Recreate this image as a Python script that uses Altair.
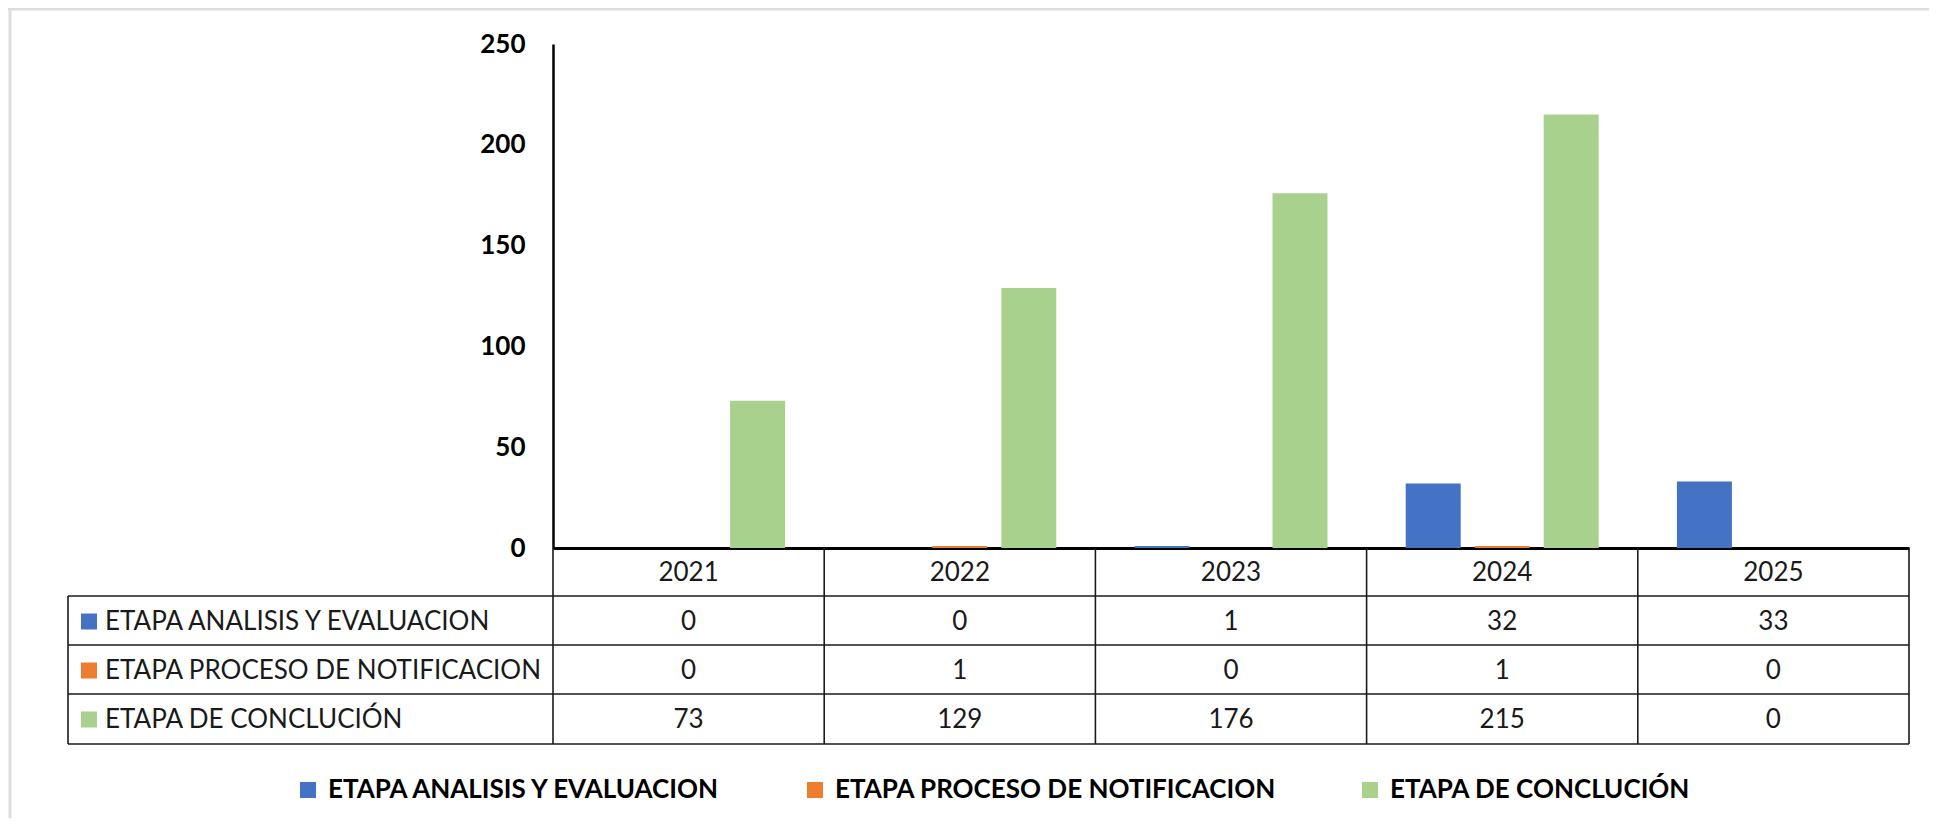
import altair as alt
import pandas as pd

years = ["2021", "2022", "2023", "2024", "2025"]
series = ["ETAPA ANALISIS Y EVALUACION", "ETAPA PROCESO DE NOTIFICACION", "ETAPA DE CONCLUCIÓN"]
analisis = [0, 0, 1, 32, 33]
notificacion = [0, 1, 0, 1, 0]
conclucion = [73, 129, 176, 215, 0]
colors = ["#4472C4", "#ED7D31", "#A9D18E"]
y_ticks = [0, 50, 100, 150, 200, 250]

values = [analisis, notificacion, conclucion]

bar_rows = []
for s, vals in zip(series, values):
    for yr, v in zip(years, vals):
        bar_rows.append({"year": yr, "series": s, "value": v})
bars_df = pd.DataFrame(bar_rows)

YEAR_ROW = "AÑO"
table_rows = []
for yr in years:
    table_rows.append({"year": yr, "row": YEAR_ROW, "text": yr})
for s, vals in zip(series, values):
    for yr, v in zip(years, vals):
        table_rows.append({"year": yr, "row": s, "text": str(v)})
table_df = pd.DataFrame(table_rows)
labels_df = pd.DataFrame({"row": series, "series": series})
one = pd.DataFrame({"k": [0]})

FONT = "Lato"
TXT = "#1a1a1a"
W, H = 1356, 504
T_TOP, T_BOT = 504, 700
T_LEFT = -485

xscale = alt.Scale(domain=years, paddingInner=0, paddingOuter=0)
cscale = alt.Scale(domain=series, range=colors)
rowscale = alt.Scale(domain=[YEAR_ROW] + series, range=[T_TOP, T_BOT], paddingInner=0, paddingOuter=0)

legend = alt.Legend(
    title=None, orient="none", legendX=-258, legendY=733, direction="horizontal",
    symbolType="square", symbolSize=256, symbolStrokeWidth=0,
    labelFont=FONT, labelFontSize=26, labelFontWeight="bold", labelColor="#000",
    labelOffset=7, columnPadding=80, labelLimit=1000,
)

bars = alt.Chart(bars_df).mark_bar().encode(
    x=alt.X("year:N", scale=xscale,
            axis=alt.Axis(title=None, labels=False, ticks=False, domainColor="#000", domainWidth=3)),
    xOffset=alt.XOffset("series:N", scale=alt.Scale(domain=series, paddingInner=0.203, paddingOuter=0.567)),
    y=alt.Y("value:Q", scale=alt.Scale(domain=[0, 250], nice=False),
            axis=alt.Axis(title=None, values=y_ticks, ticks=False, grid=False,
                          labelFont=FONT, labelFontSize=26, labelFontWeight="bold",
                          labelColor="#000", labelPadding=28,
                          domainColor="#000", domainWidth=2.5)),
    color=alt.Color("series:N", scale=cscale, legend=legend),
)

vlines = alt.Chart(pd.DataFrame({"year": years})).mark_rule(color=TXT, strokeWidth=1.6).encode(
    x=alt.X("year:N", bandPosition=0, scale=xscale),
    y=alt.value(T_TOP), y2=alt.value(T_BOT),
)

frame_layers = [
    alt.Chart(one).mark_rule(color=TXT, strokeWidth=1.6).encode(
        x=alt.value(W), y=alt.value(T_TOP), y2=alt.value(T_BOT)),
    alt.Chart(one).mark_rule(color=TXT, strokeWidth=1.6).encode(
        x=alt.value(T_LEFT), y=alt.value(552), y2=alt.value(T_BOT)),
]
for yv in [552, 601, 650, T_BOT]:
    frame_layers.append(
        alt.Chart(one).mark_rule(color=TXT, strokeWidth=1.6).encode(
            x=alt.value(T_LEFT), x2=alt.value(W), y=alt.value(yv)))

# outer chart frame
frame_layers.append(alt.Chart(one).mark_rule(color="#dcdcdc", strokeWidth=3).encode(
    x=alt.value(-543), y=alt.value(-36), y2=alt.value(800)))
frame_layers.append(alt.Chart(one).mark_rule(color="#dcdcdc", strokeWidth=3).encode(
    x=alt.value(-545), x2=alt.value(W + 30), y=alt.value(-35)))

table_text = alt.Chart(table_df).mark_text(font=FONT, fontSize=26, color=TXT).encode(
    x=alt.X("year:N", scale=xscale),
    y=alt.Y("row:N", scale=rowscale, axis=None),
    text="text:N",
)

row_labels = alt.Chart(labels_df).mark_text(align="left", font=FONT, fontSize=26, color=TXT).encode(
    x=alt.value(-448),
    y=alt.Y("row:N", scale=rowscale, axis=None),
    text="series:N",
)

row_keys = alt.Chart(labels_df).mark_square(size=256, opacity=1, filled=True).encode(
    x=alt.value(-464),
    y=alt.Y("row:N", scale=rowscale, axis=None),
    color=alt.Color("series:N", scale=cscale, legend=legend),
)

chart = alt.layer(
    bars, vlines, *frame_layers, table_text, row_labels, row_keys
).resolve_scale(y="independent").properties(
    width=W, height=H,
    autosize=alt.AutoSizeParams(type="none"),
    padding={"left": 545, "top": 36, "right": 20, "bottom": 270},
    background="white",
).configure_view(stroke=None)

chart.save("out.html", embed_options={"renderer": "svg", "actions": False})
